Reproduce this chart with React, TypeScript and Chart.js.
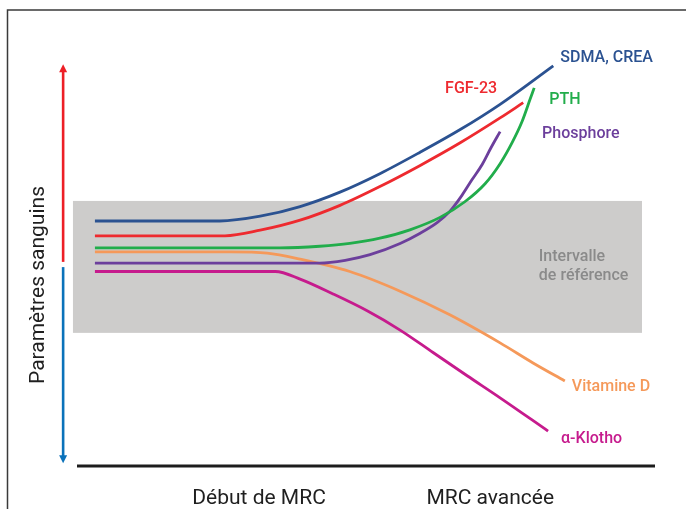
import React, { useEffect, useRef } from "react";
import { Chart, registerables } from "chart.js";

Chart.register(...registerables);

// Disease progression (0–100) vs. relative blood level (0–100)
const sdmaX = [3.1, 24.7, 31.7, 38.6, 45.5, 52.4, 59.3, 66.3, 73.2, 82.4];
const sdmaY = [61.1, 61.1, 62.3, 64.7, 68.3, 72.9, 78.2, 83.9, 90.2, 99.8];

const fgfX = [3.1, 25.6, 31.7, 38.6, 45.5, 52.4, 59.3, 66.3, 73.2, 77.2];
const fgfY = [57.4, 57.4, 58.8, 61.3, 65.0, 69.7, 74.9, 80.6, 86.8, 90.6];

const pthX = [3.1, 35.1, 42.0, 47.2, 52.4, 57.6, 62.8, 67.1, 70.6, 73.2, 75.3, 77.0, 78.4, 79.1];
const pthY = [54.4, 54.4, 54.8, 55.5, 56.8, 58.9, 62.0, 65.9, 70.4, 75.4, 80.7, 85.9, 91.5, 94.3];

const phosX = [3.1, 42.0, 46.4, 50.7, 55.9, 59.3, 62.3, 64.5, 66.6, 68.3, 70.1, 71.6, 73.2];
const phosY = [50.6, 50.6, 51.3, 52.7, 55.5, 58.0, 60.7, 63.5, 67.5, 71.3, 75.2, 79.3, 83.4];

const vitDX = [3.1, 26.5, 32.9, 38.6, 47.2, 55.9, 64.5, 73.2, 78.9, 84.4];
const vitDY = [53.4, 53.4, 53.1, 51.6, 48.5, 43.6, 37.7, 30.7, 25.7, 21.2];

const klothoX = [3.1, 34.3, 38.6, 44.3, 50.2, 55.9, 61.6, 67.5, 73.2, 81.5];
const klothoY = [48.5, 48.5, 46.6, 42.9, 38.7, 33.9, 28.3, 22.5, 17.0, 8.7];

const seriesNames = ["SDMA, CREA", "FGF-23", "PTH", "Phosphore", "Vitamine D", "α-Klotho"];
const seriesXs = [sdmaX, fgfX, pthX, phosX, vitDX, klothoX];
const seriesYs = [sdmaY, fgfY, pthY, phosY, vitDY, klothoY];
const seriesColors = ["#2b5291", "#ee2a2f", "#21ad4b", "#6c3f9c", "#f5995a", "#c61b8d"];

const referenceRange = [33.2, 66.1];
const referenceLabel = ["Intervalle", "de référence"];
const stageLabels = ["Début de MRC", "MRC avancée"];
const stageValues = [31.5, 71.5];
const axisTitle = "Paramètres sanguins";

// label placement (pixel offset from the end of each curve)
const labelLayout: [number, number, CanvasTextAlign][] = [
  [7, -3.5, "left"],
  [-26, -10, "right"],
  [15, 16, "left"],
  [42, 6, "left"],
  [7, 10.5, "left"],
  [13, 11.5, "left"],
];

const FONT = 'Roboto, "Noto Sans", sans-serif';

const decor = {
  id: "decor",
  beforeDatasetsDraw(chart: any) {
    const { ctx, scales } = chart;
    const x = scales.x;
    const y = scales.y;
    ctx.save();
    // frame
    ctx.strokeStyle = "#3a3a3a";
    ctx.lineWidth = 1.5;
    ctx.beginPath();
    ctx.moveTo(7.5, 509);
    ctx.lineTo(7.5, 10);
    ctx.lineTo(686, 10);
    ctx.stroke();
    // reference band
    const bx0 = x.getPixelForValue(-0.7);
    const bx1 = x.getPixelForValue(97.75);
    const by0 = y.getPixelForValue(referenceRange[1]);
    const by1 = y.getPixelForValue(referenceRange[0]);
    ctx.fillStyle = "#cdcccb";
    ctx.fillRect(bx0, by0, bx1 - bx0, by1 - by0);
    ctx.restore();
  },
  afterDatasetsDraw(chart: any) {
    const { ctx, scales } = chart;
    const x = scales.x;
    const y = scales.y;
    ctx.save();

    // y arrows
    const ax = x.getPixelForValue(-2.4);
    const drawArrow = (from: number, to: number, color: string) => {
      const p0 = y.getPixelForValue(from);
      const p1 = y.getPixelForValue(to);
      const dir = p1 < p0 ? -1 : 1;
      ctx.strokeStyle = color;
      ctx.fillStyle = color;
      ctx.lineWidth = 2.6;
      ctx.beginPath();
      ctx.moveTo(ax, p0);
      ctx.lineTo(ax, p1 - dir * 6);
      ctx.stroke();
      ctx.beginPath();
      ctx.moveTo(ax, p1);
      ctx.lineTo(ax - 4, p1 - dir * 8);
      ctx.lineTo(ax + 4, p1 - dir * 8);
      ctx.closePath();
      ctx.fill();
    };
    drawArrow(50.9, 100.2, "#ed1f26");
    drawArrow(49.6, 0.7, "#0b72ba");

    // x axis line
    ctx.strokeStyle = "#1c1c1c";
    ctx.lineWidth = 3;
    ctx.beginPath();
    ctx.moveTo(x.getPixelForValue(0), y.getPixelForValue(0));
    ctx.lineTo(x.getPixelForValue(100), y.getPixelForValue(0));
    ctx.stroke();

    // stage labels
    ctx.fillStyle = "#1f1f1f";
    ctx.font = `400 21px ${FONT}`;
    ctx.textAlign = "center";
    ctx.textBaseline = "alphabetic";
    stageLabels.forEach((t, i) => {
      ctx.fillText(t, x.getPixelForValue(stageValues[i]), y.getPixelForValue(0) + 38);
    });

    // y title
    ctx.save();
    ctx.translate(43.5, 285);
    ctx.rotate(-Math.PI / 2);
    ctx.font = `400 21px ${FONT}`;
    ctx.textAlign = "center";
    ctx.fillText(axisTitle, 0, 0);
    ctx.restore();

    // reference label
    const mid = y.getPixelForValue((referenceRange[0] + referenceRange[1]) / 2);
    ctx.fillStyle = "#8a8a8a";
    ctx.font = `500 16px ${FONT}`;
    ctx.textAlign = "left";
    const rx = x.getPixelForValue(79.9);
    ctx.fillText(referenceLabel[0], rx, mid - 5.5);
    ctx.fillText(referenceLabel[1], rx, mid + 13);

    // series labels
    seriesNames.forEach((name, i) => {
      const xs = seriesXs[i];
      const ys = seriesYs[i];
      const ex = x.getPixelForValue(xs[xs.length - 1]);
      const ey = y.getPixelForValue(ys[ys.length - 1]);
      const [dx, dy, align] = labelLayout[i];
      ctx.fillStyle = seriesColors[i];
      ctx.textAlign = align;
      ctx.fillText(name, ex + dx, ey + dy);
    });

    ctx.restore();
  },
};

export default function App() {
  const ref = useRef<HTMLCanvasElement | null>(null);
  useEffect(() => {
    if (!ref.current) return;
    const chart = new Chart(ref.current, {
      type: "line",
      data: {
        datasets: seriesNames.map((name, i) => ({
          label: name,
          data: seriesXs[i].map((xv, j) => ({ x: xv, y: seriesYs[i][j] })),
          borderColor: seriesColors[i],
          borderWidth: 2.8,
          pointRadius: 0,
          fill: false,
          cubicInterpolationMode: "monotone" as const,
          clip: false as any,
          borderCapStyle: "butt" as const,
        })),
      },
      options: {
        responsive: false,
        animation: false,
        layout: { padding: { left: 77, right: 31, top: 65, bottom: 43 } },
        plugins: { legend: { display: false }, tooltip: { enabled: false } },
        scales: {
          x: { type: "linear", min: 0, max: 100, display: false },
          y: { type: "linear", min: 0, max: 100, display: false },
        },
      },
      plugins: [decor],
    });
    return () => chart.destroy();
  }, []);
  return (
    <div style={{ position: "absolute", left: 0, top: 0, width: 686, height: 509, background: "#fff" }}>
      <canvas ref={ref} width={686} height={509} style={{ width: 686, height: 509, display: "block" }} />
    </div>
  );
}
